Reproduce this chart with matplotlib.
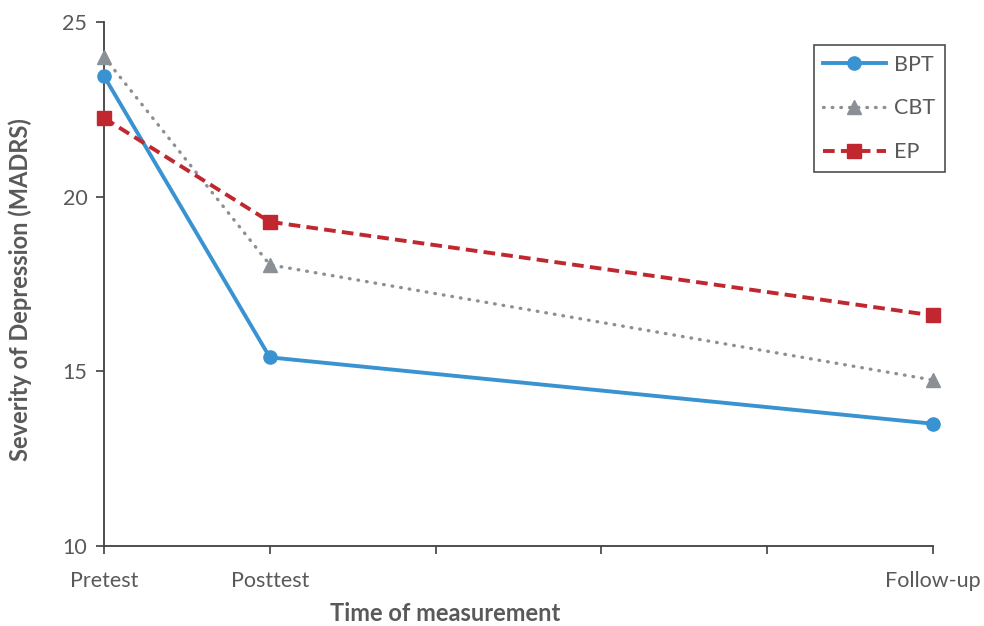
import matplotlib.pyplot as plt

plt.rcParams["font.family"] = ["Lato", "DejaVu Sans"]

# x positions: measurement occasions on a 0..5 axis
x_pos = [0, 1, 5]
tick_pos = [0, 1, 2, 3, 4, 5]
tick_labels = ["Pretest", "Posttest", "", "", "", "Follow-up"]

bpt = [23.45, 15.4, 13.5]
cbt = [24.0, 18.05, 14.75]
ep = [22.25, 19.28, 16.6]

text_color = "#595959"

fig = plt.figure(figsize=(9.84, 6.26), dpi=100)
ax = fig.add_axes([0.1057, 0.1278, 0.8425, 0.8371])

ax.plot(x_pos, bpt, color="#3A93D1", linewidth=2.8, marker="o", markersize=9.5,
        label="BPT", clip_on=False, zorder=3)
ax.plot(x_pos, cbt, color="#8B9096", linewidth=2.4, linestyle=(0, (0.2, 2.4)),
        dash_capstyle="round", marker="^", markersize=9.5, label="CBT",
        clip_on=False, zorder=3)
ax.plot(x_pos, ep, color="#C0272F", linewidth=2.8, linestyle=(0, (3, 1.6)),
        marker="s", markersize=9.5, label="EP", clip_on=False, zorder=3)

ax.set_xlim(0, 5)
ax.set_ylim(10, 25)
ax.set_xticks(tick_pos)
ax.set_xticklabels(tick_labels)
ax.set_yticks([10, 15, 20, 25])

for s in ["top", "right"]:
    ax.spines[s].set_visible(False)
for s in ["left", "bottom"]:
    ax.spines[s].set_color("#404040")
    ax.spines[s].set_linewidth(1.3)

ax.tick_params(axis="both", direction="out", length=6, width=1.2,
               color="#404040", labelcolor=text_color, labelsize=15.5)
ax.tick_params(axis="x", pad=12)
ax.tick_params(axis="y", pad=6)

ax.set_xlabel("Time of measurement", fontsize=17, fontweight="bold",
              color=text_color)
ax.xaxis.set_label_coords(0.411, -0.107)
ax.set_ylabel("Severity of Depression (MADRS)", fontsize=17, fontweight="bold",
              color=text_color)
ax.yaxis.set_label_coords(-0.087, 0.49)

leg = ax.legend(loc="upper right", bbox_to_anchor=(1.0145, 0.956), fontsize=15.5,
                frameon=True, fancybox=False, handlelength=2.9,
                labelspacing=1.1, borderpad=0.45, handletextpad=0.4,
                borderaxespad=0)
leg.get_frame().set_edgecolor("#222222")
leg.get_frame().set_linewidth(1.2)
for t in leg.get_texts():
    t.set_color(text_color)

fig.savefig("out.png", dpi=100)
